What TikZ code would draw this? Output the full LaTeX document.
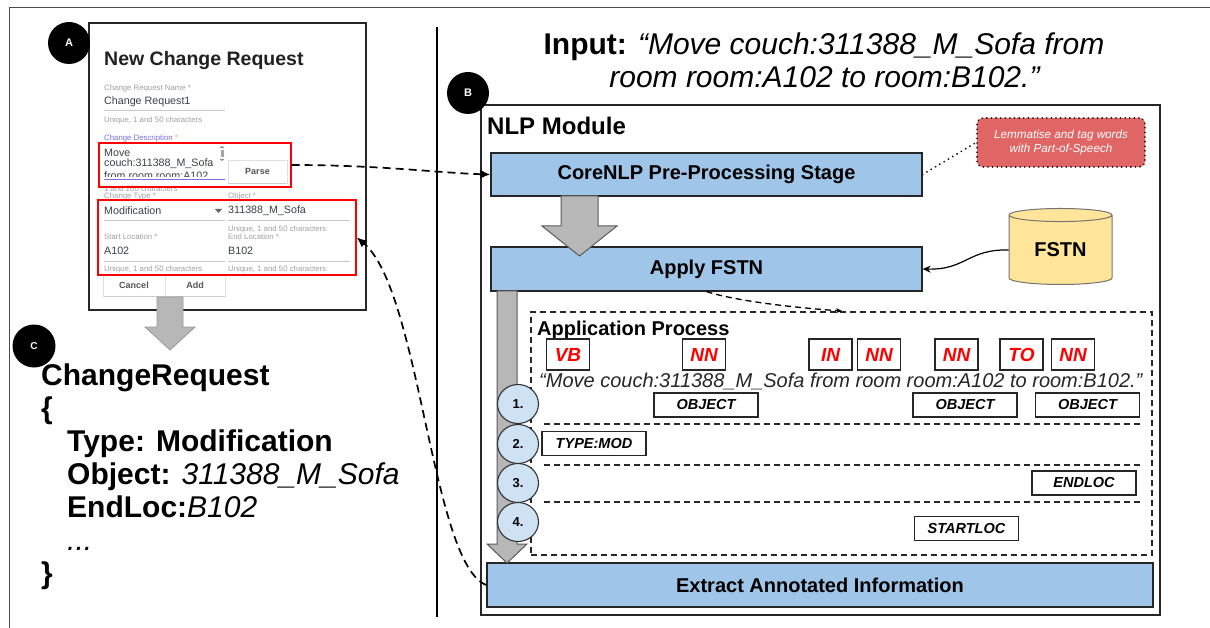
\documentclass[tikz,border=0pt]{standalone}
\usepackage{fontspec}
\setmainfont{Liberation Sans}
\usetikzlibrary{shapes.geometric,arrows.meta,calc}
\definecolor{cblue}{HTML}{9FC5E8}
\definecolor{ccirc}{HTML}{CFE2F3}
\definecolor{cgray}{HTML}{B7B7B7}
\definecolor{cyel}{HTML}{FFE599}
\definecolor{cnote}{HTML}{E06666}
\definecolor{clabel}{HTML}{A0A0A0}
\definecolor{cval}{HTML}{3C4043}
\definecolor{cpurp}{HTML}{7B6FE0}
\definecolor{corange}{HTML}{F0A030}
\definecolor{cline}{HTML}{C8C8C8}
\definecolor{ctitle}{HTML}{212121}
\definecolor{cbtn}{HTML}{555555}
\newcommand\myfs[1]{\fontsize{#1}{#1}\selectfont}
\begin{document}
\begin{tikzpicture}[x=1pt,y=-1pt,
  stagebox/.style={draw=black!85, line width=1.3pt, fill=cblue, inner sep=0pt, font=\myfs{20}\bfseries},
  badge/.style={circle, fill=black, text=white, inner sep=0pt, minimum size=42pt, font=\myfs{11}\bfseries},
  tagbox/.style={draw=black!85, line width=1.2pt, minimum width=43pt, minimum height=31pt, inner sep=0pt, text=red, font=\myfs{19}\bfseries\itshape},
  objbox/.style={draw=black!85, line width=1.2pt, minimum width=104pt, minimum height=24pt, inner sep=0pt, font=\myfs{14.5}\bfseries\itshape},
  stepcirc/.style={ellipse, draw=black!80, line width=1.1pt, fill=ccirc, minimum width=41pt, minimum height=39pt, inner sep=0pt, font=\myfs{13}\bfseries},
  grayarrow/.style={fill=cgray, draw=black!65, line width=1pt},
  lbl/.style={anchor=west, inner sep=0pt, text=clabel, font=\myfs{7.8}},
  val/.style={anchor=west, inner sep=0pt, text=cval, font=\myfs{10.7}},
  uline/.style={draw=cline, line width=0.9pt},
  redbox/.style={draw=red, line width=1.4pt, inner sep=0pt},
  btn/.style={draw=black!12, fill=white, line width=0.8pt, inner sep=0pt, text=cbtn, font=\myfs{9}\bfseries},
  dasharrow/.style={line width=1.7pt, dash pattern=on 8pt off 5pt, -{Latex[length=10pt,width=9pt]}},
  crtext/.style={anchor=base west, inner sep=0pt, font=\myfs{30}},
  sepline/.style={line width=1.2pt, dash pattern=on 6pt off 4pt, draw=black!85}
]
\useasboundingbox (0,0) rectangle (1210,628);
% outer frame
\draw[black!70, line width=1pt] (9,628) -- (9,8) -- (1210,8);

% ---------------- panel A: form ----------------
\node[draw=black!85, line width=1.5pt, fill=white, minimum width=277pt, minimum height=287pt, inner sep=0pt] (form) at (227.5,166.5) {};
\node[anchor=base west, inner sep=0pt, text=ctitle, font=\myfs{19.5}\bfseries] (ftitle) at (104,66) {New Change Request};
\node[lbl] (l1) at (104,88) {Change Request Name *};
\node[val] (v1) at (104,102) {Change Request1};
\draw[uline] (104,110) -- (225,110);
\node[lbl] (l2) at (104,120) {Unique, 1 and 50 characters};
\node[lbl, text=cpurp] (l3) at (104,138) {Change Description \textcolor{corange}{*}};
\node[val] (v2) at (104,153) {Move};
\node[val] (v3) at (104,164) {couch:311388\_M\_Sofa};
\begin{scope}
\clip (100,168) rectangle (226,176.5);
\node[val] (v4) at (104,175.5) {from room room:A102};
\end{scope}
\draw[draw=cpurp, line width=1pt] (104,180) -- (225,180);
\fill[black!35] (220.5,150) rectangle (223.5,157);
\fill[black!45] (219.5,148) -- (224.5,148) -- (222,146) -- cycle;
\fill[black!45] (219.5,159) -- (224.5,159) -- (222,161) -- cycle;
\node[btn, minimum width=59pt, minimum height=23pt] (parse) at (257.5,171.5) {Parse};
\draw[black!20, line width=1pt] (229,183.5) -- (286,183.5);
\node[lbl] (l4) at (104,189) {1 and 200 characters};
\node[lbl] (l5) at (104,196) {Change Type *};
\node[lbl] (l6) at (228,196) {Object *};
\node[val] (v5) at (104,211) {Modification};
\fill[black!60] (215,209) -- (222,209) -- (218.5,213) -- cycle;
\node[val] (v6) at (228,211) {311388\_M\_Sofa};
\draw[uline] (104,220) -- (225,220);
\draw[uline] (228,220) -- (350,220);
\node[lbl] (l7) at (228,229.5) {Unique, 1 and 50 characters};
\node[lbl] (l8) at (104,237) {Start Location *};
\node[lbl] (l9) at (228,237) {End Location *};
\node[val] (v7) at (104,251) {A102};
\node[val] (v8) at (228,251) {B102};
\draw[uline] (104,261) -- (225,261);
\draw[uline] (228,261) -- (350,261);
\node[lbl] (l10) at (104,269) {Unique, 1 and 50 characters};
\node[lbl] (l11) at (228,269) {Unique, 1 and 50 characters};
\node[btn, minimum width=62pt, minimum height=21pt] (cancel) at (134,285.5) {Cancel};
\node[btn, minimum width=60pt, minimum height=21pt] (add) at (195,285.5) {Add};
\draw[black!20, line width=1pt] (104,296.5) -- (225,296.5);
\node[redbox, minimum width=192pt, minimum height=44pt] (redA) at (195,165) {};
\node[redbox, minimum width=258pt, minimum height=75pt] (redB) at (227,237.5) {};
\node[badge] (badgeA) at (69,43) {A};
% gray arrow from form to C
\draw[fill=cgray, draw=black!40, line width=0.8pt] (157,297) -- (183,297) -- (183,327) -- (195,327) -- (170,350) -- (145,327) -- (157,327) -- cycle;

% ---------------- panel C ----------------
\node[badge, minimum size=43pt, font=\myfs{10}\bfseries] (badgeC) at (34,346) {C};
\node[crtext] (cr1) at (41,385) {\bfseries ChangeRequest};
\node[crtext] (cr2) at (41,418) {\bfseries \{};
\node[crtext] (cr3) at (67,451) {\bfseries Type: Modification};
\node[crtext] (cr4) at (67,484) {\textbf{Object:} \textit{311388\_M\_Sofa}};
\node[crtext] (cr5) at (67,517) {\textbf{EndLoc:}\textit{B102}};
\node[crtext] (cr6) at (67,550) {\textit{...}};
\node[crtext] (cr7) at (41,583) {\bfseries \}};

% divider
\draw[black, line width=2pt] (437,27) -- (437,617);

% ---------------- panel B ----------------
\node[anchor=base, inner sep=0pt, font=\myfs{30}] (in1) at (824,55) {\textbf{Input:} \textit{“Move couch:311388\_M\_Sofa from}};
\node[anchor=base, inner sep=0pt, font=\myfs{30}] (in2) at (825,88) {\textit{room room:A102 to room:B102.”}};

\node[draw=black!85, line width=1.5pt, minimum width=679pt, minimum height=510pt, inner sep=0pt] (nlp) at (820.5,360) {};
\node[anchor=west, inner sep=0pt, font=\myfs{24}\bfseries] (nlptitle) at (487,126) {NLP Module};
\node[badge] (badgeB) at (468,93) {B};

\node[draw=black, line width=1.8pt, dash pattern=on 0.01pt off 4.6pt, line cap=round, rounded corners=6pt, fill=cnote, minimum width=168pt, minimum height=49pt, inner sep=0pt, text=white, align=center, font=\myfs{11.7}\itshape] (note) at (1061,142.5) {Lemmatise and tag words\\[1.5pt]with Part-of-Speech};

\node[stagebox, minimum width=431pt, minimum height=43pt] (core) at (706.5,174.5) {CoreNLP Pre-Processing Stage};
\node[stagebox, minimum width=431pt, minimum height=44pt] (apply) at (706.5,269) {Apply FSTN};
\node[cylinder, shape border rotate=90, aspect=0.25, draw=black!55, line width=1pt, fill=cyel, minimum width=103pt, minimum height=76pt, inner sep=0pt, font=\myfs{20}\bfseries] (fstn) at (1060.5,250) {FSTN};

% application process
\node[draw=black!85, line width=1.3pt, dash pattern=on 6pt off 4pt, minimum width=621pt, minimum height=243pt, inner sep=0pt] (app) at (841.5,433.5) {};
\coordinate (apptop) at (842,311);
\node[anchor=west, inner sep=0pt, font=\myfs{20}\bfseries] (apptitle) at (537,330) {Application Process};
\node[tagbox] (t1) at (568,354.5) {VB};
\node[tagbox] (t2) at (704,354.5) {NN};
\node[tagbox] (t3) at (830.5,354.5) {IN};
\node[tagbox] (t4) at (879,354.5) {NN};
\node[tagbox] (t5) at (956.5,354.5) {NN};
\node[tagbox] (t6) at (1021.5,354.5) {TO};
\node[tagbox] (t7) at (1073,354.5) {NN};
\node[anchor=base west, inner sep=0pt, text=black!85, font=\myfs{20}\itshape] (sentence) at (539,387) {“Move couch:311388\_M\_Sofa from room room:A102 to room:B102.”};
\node[objbox] (o1) at (706,405) {OBJECT};
\node[objbox] (o2) at (965,405) {OBJECT};
\node[objbox] (o3) at (1087.5,405) {OBJECT};
\draw[sepline] (544,424) -- (1140,424);
\node[objbox] (o4) at (594,443.5) {TYPE:MOD};
\draw[sepline] (544,465) -- (1140,465);
\node[objbox] (o5) at (1084,483) {ENDLOC};
\draw[sepline] (544,502) -- (1140,502);
\node[objbox] (o6) at (966.5,528.5) {STARTLOC};

\node[stagebox, minimum width=666pt, minimum height=44pt] (extract) at (820,585) {Extract Annotated Information};

% gray block arrows
\draw[grayarrow] (561,196) -- (598,196) -- (598,226) -- (617,226) -- (579.5,256) -- (542,226) -- (561,226) -- cycle;
\draw[grayarrow] (497,291) -- (517,291) -- (517,544) -- (527,544) -- (507,563) -- (487,544) -- (497,544) -- cycle;

% steps
\node[stepcirc] (s1) at (518,404) {1.};
\node[stepcirc] (s2) at (518,444) {2.};
\node[stepcirc] (s3) at (518,483) {3.};
\node[stepcirc] (s4) at (518,522) {4.};

% connectors
\draw[dasharrow] (redA.east) .. controls (380,165) and (440,173) .. (core.west);
\draw[dasharrow] (extract.west) .. controls (432,565) and (420,290) .. (redB.east);
\draw[line width=2pt, dash pattern=on 0.01pt off 5pt, line cap=round] (core.east) -- (note.west);
\draw[line width=1.2pt, -{Stealth[length=8pt,width=7pt]}] (fstn.west) .. controls (968,249) and (966,270) .. (apply.east);
\draw[line width=1.3pt, dash pattern=on 6pt off 4pt, -{Stealth[length=6pt,width=5pt]}] (apply.south) .. controls (740,302) and (800,308) .. (apptop);
\end{tikzpicture}
\end{document}
